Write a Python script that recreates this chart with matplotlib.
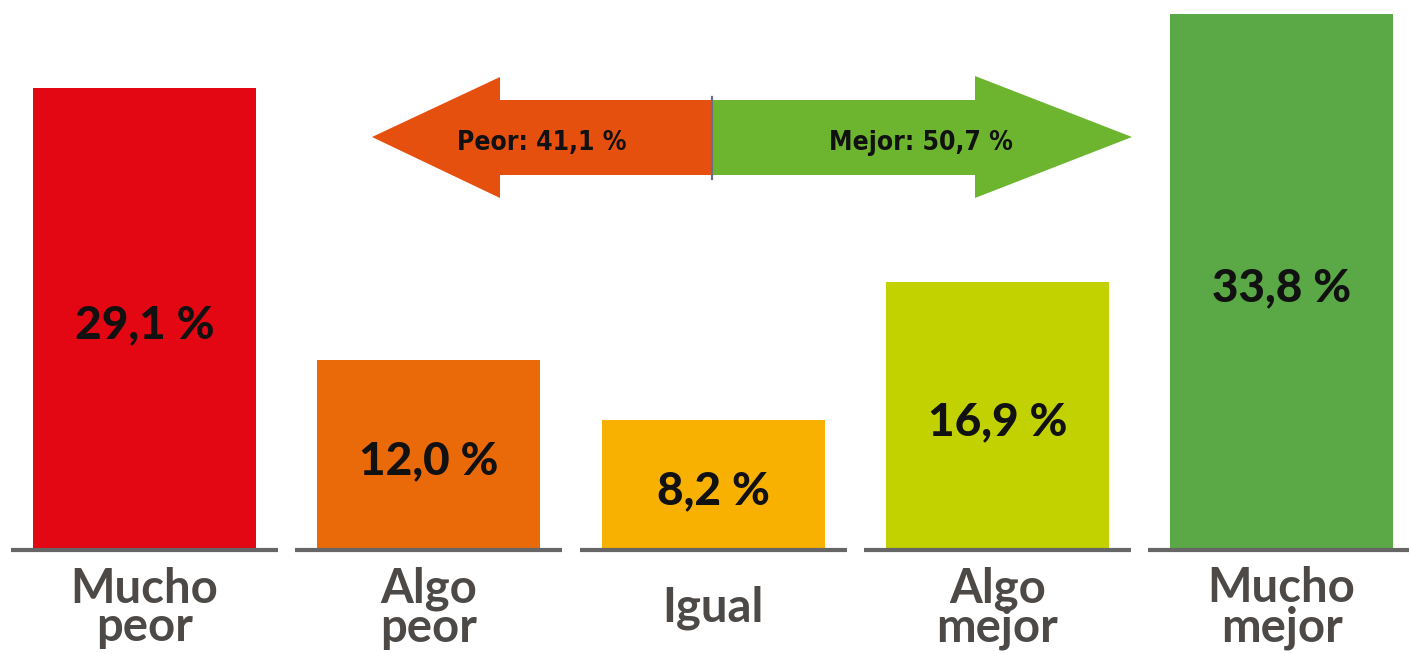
import os
import matplotlib
matplotlib.use("Agg")
import matplotlib.pyplot as plt
from matplotlib.patches import Polygon
from matplotlib import font_manager
from matplotlib.transforms import offset_copy

categories = ["Mucho\npeor", "Algo\npeor", "Igual", "Algo\nmejor", "Mucho\nmejor"]
values = [29.1, 12.0, 8.2, 16.9, 33.8]
value_labels = ["29,1 %", "12,0 %", "8,2 %", "16,9 %", "33,8 %"]
bar_colors = ["#e30613", "#ea6a0a", "#f8b100", "#c2d100", "#5aa846"]
summary_labels = ["Peor: 41,1 %", "Mejor: 50,7 %"]
arrow_colors = ["#e5500f", "#6db52f"]

W, H, DPI = 1409, 654, 100
fig = plt.figure(figsize=(W / DPI, H / DPI), dpi=DPI)
ax = fig.add_axes([0, 0, 1, 1])

pitch = 284.25
x0 = 144.5
px_per_unit = 15.86
base_px = 550
ax.set_xlim(-x0 / pitch, (W - x0) / pitch)
ax.set_ylim(-(H - base_px) / px_per_unit, base_px / px_per_unit)
ax.axis("off")

xs = list(range(len(values)))
bw = 223 / pitch
ax.bar(xs, values, width=bw, color=bar_colors, zorder=2)
half = bw / 2 + 22 / pitch
for x in xs:
    ax.hlines(0, x - half, x + half, color="#666666", lw=3.0, zorder=3)

label_font = ["Lato", "DejaVu Sans"]
# baseline of value label sits ~19 px below the bar's middle
val_tr = offset_copy(ax.transData, fig=fig, x=0, y=-19, units="dots")
for x, v, lab in zip(xs, values, value_labels):
    ax.text(x, v / 2, lab, ha="center", va="baseline", fontsize=33,
            fontweight="black", color="#111111", family=label_font,
            zorder=4, transform=val_tr)

for x, c in zip(xs, categories):
    ax.text(x, -(608 - base_px) / px_per_unit, c, ha="center", va="center",
            fontsize=34, fontweight="bold", color="#4d4946",
            family=label_font, linespacing=0.86)

# arrows overlay in pixel coordinates
ov = fig.add_axes([0, 0, 1, 1])
ov.set_xlim(0, W)
ov.set_ylim(H, 0)
ov.axis("off")
ov.patch.set_alpha(0)

left = [(372, 137), (500, 77), (500, 100), (712, 100), (712, 175), (500, 175), (500, 198)]
right = [(712, 100), (975, 100), (975, 76), (1132, 137), (975, 198), (975, 175), (712, 175)]
ov.add_patch(Polygon(left, closed=True, color=arrow_colors[0], lw=0))
ov.add_patch(Polygon(right, closed=True, color=arrow_colors[1], lw=0))
ov.plot([712, 712], [97, 179], color="#6b6f80", lw=1.6)

cond_path = "/usr/share/fonts/truetype/dejavu/DejaVuSansCondensed-Bold.ttf"
if os.path.exists(cond_path):
    nprop = font_manager.FontProperties(fname=cond_path, size=19)
else:
    nprop = font_manager.FontProperties(family="DejaVu Sans", weight="bold",
                                        stretch="condensed", size=18)
ov.text(542, 150, summary_labels[0], ha="center", va="baseline",
        color="#111111", fontproperties=nprop)
ov.text(921, 150, summary_labels[1], ha="center", va="baseline",
        color="#111111", fontproperties=nprop)

fig.savefig("out.png", dpi=DPI)
